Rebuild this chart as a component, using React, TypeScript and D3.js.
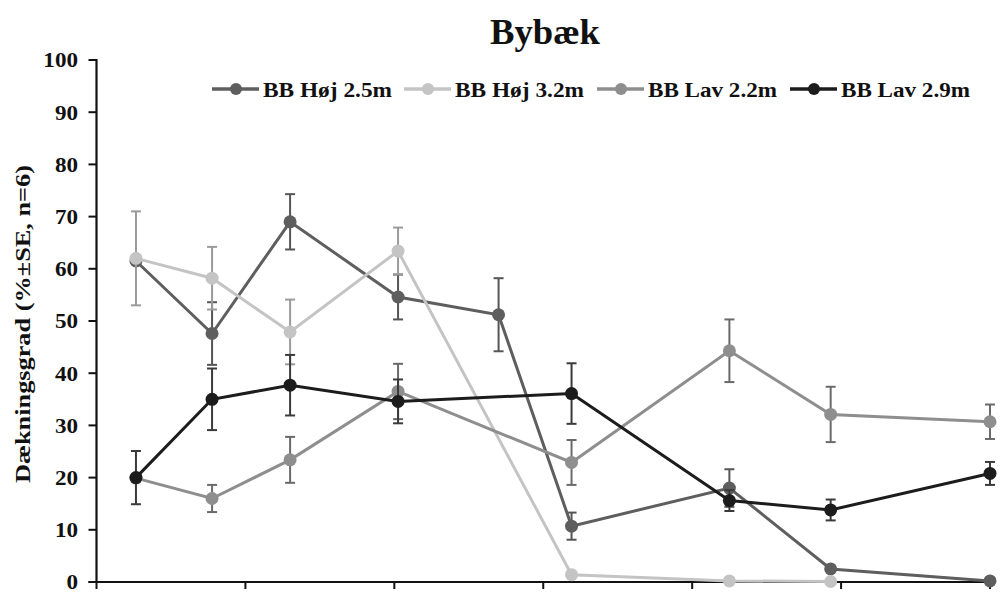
import React from "react";
import * as d3 from "d3";

const title = "Bybæk";
const yLabel = "Dækningsgrad (%±SE, n=6)";
const yTicks = [0, 10, 20, 30, 40, 50, 60, 70, 80, 90, 100];
const xTicks = [0, 1, 2, 3, 4, 5, 6];
// sampling occasions (position on the time axis, in tick units)
const samplingTimes = [0.265, 0.776, 1.3, 2.025, 2.7, 3.19, 4.25, 4.93, 6.0];

const seriesNames = ["BB Høj 2.5m", "BB Høj 3.2m", "BB Lav 2.2m", "BB Lav 2.9m"];
const hoej25 = [61.5, 47.6, 69.0, 54.6, 51.2, 10.7, 18.0, 2.5, 0.2];
const hoej25Err = [0, 6.0, 5.3, 4.3, 7.0, 2.6, 3.6, 0, 0];
const hoej32 = [62.0, 58.2, 47.9, 63.4, null, 1.4, 0.2, 0.1, null];
const hoej32Err = [9.0, 6.0, 6.2, 4.5, null, 0, 0, 0, null];
const lav22 = [19.9, 16.0, 23.4, 36.5, null, 22.9, 44.3, 32.1, 30.7];
const lav22Err = [0, 2.6, 4.4, 5.3, null, 4.3, 6.0, 5.3, 3.3];
const lav29 = [20.0, 35.0, 37.7, 34.6, null, 36.1, 15.6, 13.8, 20.8];
const lav29Err = [5.1, 5.9, 5.8, 4.2, null, 5.8, 2.0, 2.0, 2.2];

const seriesValues = [hoej25, hoej32, lav22, lav29];
const seriesErrs = [hoej25Err, hoej32Err, lav22Err, lav29Err];
const lineColors = ["#5e5e5e", "#c4c4c4", "#8e8e8e", "#1c1c1c"];
const errColors = ["#555555", "#9a9a9a", "#6a6a6a", "#3a3a3a"];

export default function App() {
  const W = 1000;
  const H = 595;
  const x = d3.scaleLinear().domain([0, 6]).range([96.5, 990]);
  const y = d3.scaleLinear().domain([0, 100]).range([582, 60]);
  const font = "'Liberation Serif', 'Times New Roman', serif";

  const legendX = [212, 404, 597, 790];

  return (
    <svg width={W} height={H} style={{ position: "absolute", left: 0, top: 0, background: "#fff" }}>
      <rect width={W} height={H} fill="#fff" />
      <text
        x={490}
        y={44}
        textLength={110}
        lengthAdjust="spacingAndGlyphs"
        fontFamily={font}
        fontWeight="bold"
        fontSize={35}
        fill="#111"
      >
        {title}
      </text>

      {/* y axis */}
      <line x1={x(0)} x2={x(0)} y1={y(100) - 1} y2={y(0) + 1} stroke="#111" strokeWidth={2.2} />
      {yTicks.map((t) => (
        <g key={"yt" + t}>
          <line x1={x(0) - 8} x2={x(0)} y1={y(t)} y2={y(t)} stroke="#111" strokeWidth={2} />
          <text
            x={78}
            y={y(t) + 7.5}
            textAnchor="end"
            fontFamily={font}
            fontWeight="bold"
            fontSize={22}
            fill="#111"
            transform={`translate(78,0) scale(1.05,1) translate(-78,0)`}
          >
            {t}
          </text>
        </g>
      ))}
      {/* x axis */}
      <line x1={x(0) - 8} x2={x(6)} y1={y(0)} y2={y(0)} stroke="#111" strokeWidth={2.2} />
      {xTicks.map((t) => (
        <line key={"xt" + t} x1={x(t)} x2={x(t)} y1={y(0)} y2={y(0) + 7} stroke="#111" strokeWidth={2} />
      ))}

      <text
        transform={`translate(30,${483}) rotate(-90)`}
        textLength={318}
        lengthAdjust="spacingAndGlyphs"
        fontFamily={font}
        fontWeight="bold"
        fontSize={21}
        fill="#111"
      >
        {yLabel}
      </text>

      {seriesValues.map((vals, si) => {
        const pts = samplingTimes
          .map((t, i) => ({ t, v: vals[i], e: seriesErrs[si][i] }))
          .filter((p) => p.v !== null) as { t: number; v: number; e: number }[];
        const line = d3
          .line<{ t: number; v: number }>()
          .x((p) => x(p.t))
          .y((p) => y(p.v));
        return (
          <g key={"s" + si}>
            {pts
              .filter((p) => p.e > 0)
              .map((p, i) => (
                <g key={"e" + i} stroke={errColors[si]} strokeWidth={2}>
                  <line x1={x(p.t)} x2={x(p.t)} y1={y(p.v + p.e)} y2={y(p.v - p.e)} />
                  <line x1={x(p.t) - 5} x2={x(p.t) + 5} y1={y(p.v + p.e)} y2={y(p.v + p.e)} />
                  <line x1={x(p.t) - 5} x2={x(p.t) + 5} y1={y(p.v - p.e)} y2={y(p.v - p.e)} />
                </g>
              ))}
            <path d={line(pts) || ""} fill="none" stroke={lineColors[si]} strokeWidth={3} />
            {pts.map((p, i) => (
              <circle key={"c" + i} cx={x(p.t)} cy={y(p.v)} r={6.5} fill={lineColors[si]} />
            ))}
          </g>
        );
      })}

      {seriesNames.map((name, i) => (
        <g key={"lg" + i}>
          <line x1={legendX[i]} x2={legendX[i] + 47} y1={89} y2={89} stroke={lineColors[i]} strokeWidth={3.5} />
          <circle cx={legendX[i] + 24} cy={89} r={6} fill={lineColors[i]} />
          <text
            x={legendX[i] + 51}
            y={97}
            textLength={129}
            lengthAdjust="spacingAndGlyphs"
            fontFamily={font}
            fontWeight="bold"
            fontSize={22}
            fill="#111"
          >
            {name}
          </text>
        </g>
      ))}
    </svg>
  );
}
